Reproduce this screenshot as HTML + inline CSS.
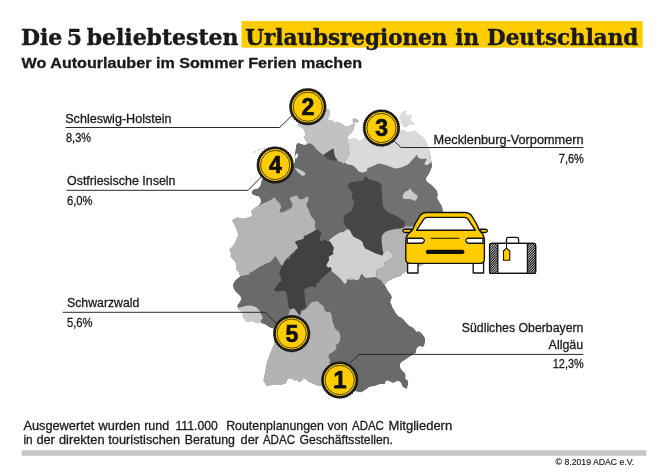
<!DOCTYPE html>
<html lang="de"><head><meta charset="utf-8"><title>Die 5 beliebtesten Urlaubsregionen in Deutschland</title>
<style>html,body{margin:0;padding:0;background:#fff}body{width:668px;height:472px;position:relative;overflow:hidden}</style>
</head><body>
<svg width="668" height="472" viewBox="0 0 668 472" style="position:absolute;left:0;top:0">
<defs><clipPath id="de"><path d="M300.0 101.0 L312.0 99.0 L322.0 102.0 L325.8 108.5 L328.5 109.0 L329.9 111.7 L330.1 114.4 L329.0 117.1 L327.2 119.3 L330.8 120.2 L333.5 121.1 L334.8 122.9 L337.1 122.0 L339.3 122.5 L341.6 123.8 L343.8 125.2 L346.0 126.5 L348.7 126.0 L351.0 124.7 L353.7 123.8 L352.8 121.6 L352.2 119.8 L353.7 118.2 L355.9 118.4 L358.2 120.2 L359.1 122.0 L357.3 122.6 L355.5 122.5 L354.6 124.1 L354.6 124.7 L354.2 127.0 L353.6 129.7 L351.9 132.4 L349.7 134.6 L347.9 136.4 L347.5 138.2 L348.5 139.6 L351.9 139.1 L354.6 138.2 L356.9 139.1 L359.1 140.9 L361.4 140.0 L362.7 138.2 L364.5 137.3 L368.1 141.4 L375.3 144.9 L395.4 126.9 L399.4 129.6 L401.7 131.0 L403.5 129.6 L405.7 131.4 L408.0 132.8 L410.7 131.9 L413.4 131.0 L415.6 130.5 L416.9 132.8 L419.2 134.6 L421.4 135.9 L423.7 137.7 L425.5 140.0 L425.9 142.0 L422.0 138.0 L424.5 140.0 L427.0 143.0 L428.5 147.5 L429.8 153.0 L430.8 158.8 L431.5 162.0 L432.0 166.8 L430.5 170.4 L428.7 174.0 L426.3 177.5 L426.0 180.5 L428.7 182.9 L431.7 185.3 L434.7 188.3 L437.1 191.3 L437.7 194.9 L437.1 197.9 L438.9 201.5 L440.7 204.5 L441.9 206.0 L443.0 212.0 L446.0 222.0 L447.0 232.0 L444.0 242.0 L440.0 250.0 L436.0 258.0 L428.0 262.0 L420.0 266.0 L412.0 270.0 L406.5 271.6 L402.9 273.4 L401.1 275.7 L397.5 276.9 L393.9 278.1 L390.3 279.9 L387.3 281.7 L384.9 284.7 L386.7 288.3 L388.5 291.3 L390.9 294.3 L392.1 297.3 L390.9 300.3 L390.3 303.3 L391.5 306.0 L388.9 300.0 L391.3 303.6 L392.5 307.2 L394.3 310.2 L396.1 313.2 L398.5 316.2 L401.5 317.4 L403.9 319.8 L406.3 322.8 L409.3 325.7 L412.3 326.9 L414.7 329.3 L416.5 331.7 L418.9 331.1 L421.9 333.5 L424.3 336.5 L425.4 339.5 L424.9 343.1 L424.3 346.1 L422.5 347.3 L420.7 346.1 L418.3 346.7 L416.5 349.1 L415.9 352.7 L414.7 356.0 L415.4 353.0 L411.9 355.4 L408.3 357.8 L404.7 360.2 L401.7 362.0 L399.9 364.4 L400.5 368.0 L402.3 370.4 L404.7 372.8 L405.9 375.7 L405.3 378.7 L407.7 379.9 L408.5 382.9 L407.7 385.9 L407.1 388.9 L404.7 388.3 L402.3 386.5 L401.1 383.5 L399.9 381.7 L397.5 381.1 L395.1 382.3 L392.7 382.9 L390.3 381.7 L387.3 380.5 L385.5 381.7 L384.9 384.1 L381.9 384.1 L378.3 384.7 L375.3 385.9 L372.3 386.5 L369.3 387.1 L366.9 388.9 L364.0 390.7 L361.6 392.5 L358.0 391.9 L355.6 391.3 L345.0 393.0 L335.0 390.0 L326.0 388.0 L321.1 385.5 L318.7 386.1 L316.3 385.3 L313.3 383.7 L310.3 382.5 L307.9 381.3 L306.1 379.5 L303.7 378.3 L301.3 381.3 L298.3 381.9 L297.1 380.1 L294.7 380.7 L292.3 378.9 L289.3 378.3 L286.9 380.1 L286.3 383.1 L282.8 384.6 L278.0 384.9 L273.2 384.9 L269.6 385.5 L266.6 386.1 L264.8 383.1 L263.4 380.1 L264.2 375.9 L265.4 371.1 L266.0 366.3 L267.2 361.6 L268.4 358.0 L270.2 353.2 L272.0 348.4 L274.4 343.6 L273.5 328.7 L270.5 328.1 L267.5 326.3 L265.1 324.6 L262.1 323.4 L260.3 322.2 L259.7 322.8 L257.3 323.4 L254.3 322.2 L251.9 321.0 L249.0 322.2 L246.0 321.6 L244.2 318.6 L242.4 316.8 L243.0 314.4 L241.8 311.4 L238.2 309.6 L237.6 307.8 L237.0 306.0 L238.8 303.0 L241.2 300.0 L238.8 304.5 L240.0 301.5 L241.2 298.5 L240.0 296.1 L237.6 293.7 L235.2 291.3 L233.4 288.3 L232.8 284.7 L234.6 281.1 L237.0 278.7 L240.0 276.3 L238.8 272.2 L235.8 269.2 L236.4 265.6 L235.2 262.0 L232.8 259.0 L230.4 256.6 L231.0 253.0 L229.2 250.0 L232.8 253.3 L230.4 251.5 L229.2 249.1 L231.0 247.9 L233.4 245.5 L235.2 241.9 L237.0 238.3 L238.2 234.7 L237.0 231.1 L235.8 227.5 L234.0 224.0 L232.2 221.0 L232.8 219.2 L236.4 218.0 L237.0 216.8 L239.4 218.0 L243.0 218.6 L247.8 217.4 L251.3 216.2 L252.5 213.8 L250.7 212.0 L251.9 210.2 L255.5 207.2 L259.7 204.2 L259.1 206.0 L259.7 203.9 L260.9 201.5 L260.3 199.1 L259.1 196.7 L256.1 196.1 L253.1 194.9 L251.3 193.1 L251.9 191.3 L253.1 189.5 L254.9 188.9 L257.9 188.3 L259.7 186.5 L260.9 183.5 L261.5 179.9 L266.0 175.0 L270.0 168.0 L280.0 160.0 L290.0 156.0 L291.7 166.7 L293.5 164.9 L294.8 160.5 L294.4 156.0 L295.1 151.5 L295.7 147.9 L296.2 144.6 L298.0 142.8 L300.4 143.4 L303.4 144.6 L306.3 144.6 L306.6 144.0 L306.9 142.2 L305.1 139.8 L304.0 136.8 L305.7 134.4 L304.6 132.0 L303.4 129.0 L301.0 127.2 L298.0 125.4 L297.6 124.8 L299.0 118.0 Z"/></clipPath><pattern id="hatch" width="1.7" height="1.7" patternUnits="userSpaceOnUse" patternTransform="rotate(35)"><rect width="1.7" height="1.7" fill="#fff"/><rect width="0.85" height="1.7" fill="#222"/></pattern></defs>
<rect x="241.5" y="21.1" width="401.2" height="26.5" fill="#ffcc00"/>
<g clip-path="url(#de)">
<path d="M300.0 101.0 L312.0 99.0 L322.0 102.0 L325.8 108.5 L328.5 109.0 L329.9 111.7 L330.1 114.4 L329.0 117.1 L327.2 119.3 L330.8 120.2 L333.5 121.1 L334.8 122.9 L337.1 122.0 L339.3 122.5 L341.6 123.8 L343.8 125.2 L346.0 126.5 L348.7 126.0 L351.0 124.7 L353.7 123.8 L352.8 121.6 L352.2 119.8 L353.7 118.2 L355.9 118.4 L358.2 120.2 L359.1 122.0 L357.3 122.6 L355.5 122.5 L354.6 124.1 L354.6 124.7 L354.2 127.0 L353.6 129.7 L351.9 132.4 L349.7 134.6 L347.9 136.4 L347.5 138.2 L348.5 139.6 L351.9 139.1 L354.6 138.2 L356.9 139.1 L359.1 140.9 L361.4 140.0 L362.7 138.2 L364.5 137.3 L368.1 141.4 L375.3 144.9 L395.4 126.9 L399.4 129.6 L401.7 131.0 L403.5 129.6 L405.7 131.4 L408.0 132.8 L410.7 131.9 L413.4 131.0 L415.6 130.5 L416.9 132.8 L419.2 134.6 L421.4 135.9 L423.7 137.7 L425.5 140.0 L425.9 142.0 L422.0 138.0 L424.5 140.0 L427.0 143.0 L428.5 147.5 L429.8 153.0 L430.8 158.8 L431.5 162.0 L432.0 166.8 L430.5 170.4 L428.7 174.0 L426.3 177.5 L426.0 180.5 L428.7 182.9 L431.7 185.3 L434.7 188.3 L437.1 191.3 L437.7 194.9 L437.1 197.9 L438.9 201.5 L440.7 204.5 L441.9 206.0 L443.0 212.0 L446.0 222.0 L447.0 232.0 L444.0 242.0 L440.0 250.0 L436.0 258.0 L428.0 262.0 L420.0 266.0 L412.0 270.0 L406.5 271.6 L402.9 273.4 L401.1 275.7 L397.5 276.9 L393.9 278.1 L390.3 279.9 L387.3 281.7 L384.9 284.7 L386.7 288.3 L388.5 291.3 L390.9 294.3 L392.1 297.3 L390.9 300.3 L390.3 303.3 L391.5 306.0 L388.9 300.0 L391.3 303.6 L392.5 307.2 L394.3 310.2 L396.1 313.2 L398.5 316.2 L401.5 317.4 L403.9 319.8 L406.3 322.8 L409.3 325.7 L412.3 326.9 L414.7 329.3 L416.5 331.7 L418.9 331.1 L421.9 333.5 L424.3 336.5 L425.4 339.5 L424.9 343.1 L424.3 346.1 L422.5 347.3 L420.7 346.1 L418.3 346.7 L416.5 349.1 L415.9 352.7 L414.7 356.0 L415.4 353.0 L411.9 355.4 L408.3 357.8 L404.7 360.2 L401.7 362.0 L399.9 364.4 L400.5 368.0 L402.3 370.4 L404.7 372.8 L405.9 375.7 L405.3 378.7 L407.7 379.9 L408.5 382.9 L407.7 385.9 L407.1 388.9 L404.7 388.3 L402.3 386.5 L401.1 383.5 L399.9 381.7 L397.5 381.1 L395.1 382.3 L392.7 382.9 L390.3 381.7 L387.3 380.5 L385.5 381.7 L384.9 384.1 L381.9 384.1 L378.3 384.7 L375.3 385.9 L372.3 386.5 L369.3 387.1 L366.9 388.9 L364.0 390.7 L361.6 392.5 L358.0 391.9 L355.6 391.3 L345.0 393.0 L335.0 390.0 L326.0 388.0 L321.1 385.5 L318.7 386.1 L316.3 385.3 L313.3 383.7 L310.3 382.5 L307.9 381.3 L306.1 379.5 L303.7 378.3 L301.3 381.3 L298.3 381.9 L297.1 380.1 L294.7 380.7 L292.3 378.9 L289.3 378.3 L286.9 380.1 L286.3 383.1 L282.8 384.6 L278.0 384.9 L273.2 384.9 L269.6 385.5 L266.6 386.1 L264.8 383.1 L263.4 380.1 L264.2 375.9 L265.4 371.1 L266.0 366.3 L267.2 361.6 L268.4 358.0 L270.2 353.2 L272.0 348.4 L274.4 343.6 L273.5 328.7 L270.5 328.1 L267.5 326.3 L265.1 324.6 L262.1 323.4 L260.3 322.2 L259.7 322.8 L257.3 323.4 L254.3 322.2 L251.9 321.0 L249.0 322.2 L246.0 321.6 L244.2 318.6 L242.4 316.8 L243.0 314.4 L241.8 311.4 L238.2 309.6 L237.6 307.8 L237.0 306.0 L238.8 303.0 L241.2 300.0 L238.8 304.5 L240.0 301.5 L241.2 298.5 L240.0 296.1 L237.6 293.7 L235.2 291.3 L233.4 288.3 L232.8 284.7 L234.6 281.1 L237.0 278.7 L240.0 276.3 L238.8 272.2 L235.8 269.2 L236.4 265.6 L235.2 262.0 L232.8 259.0 L230.4 256.6 L231.0 253.0 L229.2 250.0 L232.8 253.3 L230.4 251.5 L229.2 249.1 L231.0 247.9 L233.4 245.5 L235.2 241.9 L237.0 238.3 L238.2 234.7 L237.0 231.1 L235.8 227.5 L234.0 224.0 L232.2 221.0 L232.8 219.2 L236.4 218.0 L237.0 216.8 L239.4 218.0 L243.0 218.6 L247.8 217.4 L251.3 216.2 L252.5 213.8 L250.7 212.0 L251.9 210.2 L255.5 207.2 L259.7 204.2 L259.1 206.0 L259.7 203.9 L260.9 201.5 L260.3 199.1 L259.1 196.7 L256.1 196.1 L253.1 194.9 L251.3 193.1 L251.9 191.3 L253.1 189.5 L254.9 188.9 L257.9 188.3 L259.7 186.5 L260.9 183.5 L261.5 179.9 L266.0 175.0 L270.0 168.0 L280.0 160.0 L290.0 156.0 L291.7 166.7 L293.5 164.9 L294.8 160.5 L294.4 156.0 L295.1 151.5 L295.7 147.9 L296.2 144.6 L298.0 142.8 L300.4 143.4 L303.4 144.6 L306.3 144.6 L306.6 144.0 L306.9 142.2 L305.1 139.8 L304.0 136.8 L305.7 134.4 L304.6 132.0 L303.4 129.0 L301.0 127.2 L298.0 125.4 L297.6 124.8 L299.0 118.0 Z" fill="#6a6a6a"/>
<path d="M366.1 160.0 L366.1 169.3 L366.0 176.0 L372.0 200.0 L380.0 235.0 L395.0 245.0 L455.0 245.0 L455.0 150.0 L366.0 150.0 Z" fill="#717171"/>
<path d="M350.0 118.0 L343.0 131.5 L343.0 139.6 L348.2 139.6 L347.9 142.3 L348.5 144.9 L349.3 147.6 L348.8 150.3 L349.7 152.6 L348.5 154.8 L347.5 157.5 L346.1 160.0 L344.5 162.0 L343.0 163.8 L343.5 162.2 L348.0 164.4 L352.5 165.2 L356.2 168.2 L358.4 171.2 L362.2 172.7 L366.7 171.2 L367.4 168.2 L371.2 166.7 L374.9 165.2 L377.9 163.7 L381.6 165.2 L377.2 163.2 L380.8 163.8 L385.6 165.0 L390.4 166.8 L395.1 168.6 L399.3 168.0 L402.9 166.8 L407.1 165.0 L410.1 162.6 L412.5 159.6 L414.9 157.2 L416.7 154.8 L418.5 157.8 L421.5 159.0 L425.1 158.6 L426.9 159.6 L425.1 162.0 L424.5 164.4 L427.5 165.0 L430.5 162.6 L433.5 162.6 L445.0 150.0 L445.0 95.0 L350.0 95.0 L350.0 118.0 Z" fill="#dadada"/>
<path d="M285.0 95.0 L330.0 95.0 L330.8 105.4 L331.7 114.4 L329.0 118.0 L330.8 119.3 L333.5 120.2 L334.8 122.0 L337.1 121.1 L339.3 121.6 L343.8 124.3 L346.0 125.6 L348.7 125.2 L351.0 123.8 L352.3 123.5 L355.9 124.1 L360.9 127.0 L354.6 136.9 L348.2 139.6 L347.9 142.3 L348.5 144.9 L349.3 147.6 L348.8 150.3 L349.7 152.6 L348.5 154.8 L347.5 157.5 L346.1 160.0 L344.5 162.0 L343.0 163.8 L341.7 162.2 L338.7 161.3 L336.0 160.1 L334.5 157.1 L333.9 154.7 L333.7 151.7 L333.3 148.7 L331.5 149.3 L329.1 151.1 L326.1 152.9 L323.7 154.7 L321.3 153.5 L318.9 151.4 L316.5 149.3 L314.7 146.9 L312.3 144.6 L310.5 143.4 L308.1 143.4 L306.6 144.0 L300.0 140.0 L290.0 125.0 Z" fill="#c2c2c2"/>
<path d="M324.0 154.2 L326.7 152.8 L329.4 151.0 L332.1 149.2 L333.7 148.6 L334.0 151.5 L334.4 154.2 L335.3 156.9 L336.7 159.1 L338.0 160.6 L335.7 161.0 L333.0 160.5 L330.3 160.1 L327.6 159.2 L325.4 157.4 L324.2 155.6 Z" fill="#4a4a4a"/>
<path d="M259.7 204.2 L255.5 207.2 L251.9 210.2 L250.7 212.0 L252.5 213.8 L251.3 216.2 L247.8 217.4 L243.0 218.6 L239.4 218.0 L237.0 216.8 L236.4 218.0 L232.8 219.2 L229.8 221.0 L231.6 224.0 L233.4 227.5 L234.6 231.1 L235.8 234.7 L234.6 238.3 L232.8 241.9 L231.0 245.5 L228.6 247.9 L226.8 249.1 L228.0 251.5 L230.4 253.3 L226.8 250.0 L228.6 253.0 L228.0 256.6 L230.4 259.0 L232.8 262.0 L234.0 265.6 L233.4 269.2 L236.4 272.2 L240.0 276.3 L243.0 275.7 L246.6 275.1 L249.6 274.6 L249.0 272.2 L250.7 272.8 L253.1 271.0 L256.1 269.2 L259.7 266.8 L263.3 265.0 L266.9 263.2 L270.5 262.0 L272.9 259.0 L275.3 256.0 L277.7 259.6 L279.5 262.6 L281.3 265.0 L284.9 265.0 L287.3 262.0 L289.7 260.2 L292.7 259.0 L295.1 256.0 L297.5 253.0 L299.3 250.0 L298.7 252.7 L300.4 250.9 L302.2 248.5 L302.8 245.5 L300.4 243.7 L301.6 241.3 L305.2 240.1 L308.2 238.3 L307.6 235.9 L309.8 234.1 L298.0 246.0 L296.8 244.5 L295.0 242.7 L296.2 240.9 L298.6 240.3 L301.6 239.7 L304.0 238.5 L303.4 236.1 L305.1 234.9 L306.9 236.7 L309.3 236.1 L311.7 234.3 L313.5 231.9 L315.9 230.1 L315.3 228.3 L314.7 225.3 L315.3 221.7 L313.5 218.7 L311.1 216.3 L309.9 213.4 L308.7 209.8 L306.9 206.8 L306.3 203.8 L308.1 200.8 L308.7 197.8 L306.9 196.6 L304.0 198.4 L301.0 199.6 L298.6 198.4 L297.4 195.4 L294.4 196.0 L290.8 197.2 L289.6 199.0 L291.4 201.4 L292.6 204.4 L291.4 208.0 L287.2 209.8 L283.6 211.0 L280.0 212.2 L293.3 208.4 L288.5 210.2 L283.7 212.0 L280.1 212.6 L279.5 210.8 L281.3 207.2 L280.1 203.6 L277.7 200.0 L280.7 206.0 L279.5 203.9 L277.7 201.5 L275.9 199.1 L274.1 197.3 L272.3 199.1 L268.7 200.9 L264.5 202.7 L260.9 204.5 L259.1 206.0 Z" fill="#b5b5b5"/>
<path d="M327.9 241.5 L330.3 239.1 L333.3 236.7 L336.9 234.3 L339.9 232.5 L343.5 231.9 L345.9 230.1 L345.0 229.9 L348.0 229.3 L349.8 229.9 L351.6 233.5 L353.4 236.5 L356.9 238.3 L360.5 240.1 L362.9 242.5 L363.5 245.5 L365.3 248.5 L368.3 249.7 L371.9 251.5 L375.5 253.3 L379.1 254.5 L369.9 250.0 L373.5 251.8 L378.3 254.2 L382.5 255.4 L383.4 252.4 L387.9 250.0 L389.7 251.8 L392.1 254.2 L392.7 257.2 L390.3 259.0 L387.3 260.8 L384.3 262.6 L384.9 265.6 L382.5 267.4 L378.9 268.6 L375.9 270.4 L376.5 273.4 L375.9 276.9 L374.1 277.3 L370.5 277.5 L366.9 278.1 L364.0 276.9 L362.2 273.4 L360.4 275.7 L359.2 279.3 L355.6 280.5 L352.0 279.3 L349.0 278.1 L346.0 279.3 L346.6 282.3 L344.8 284.1 L342.4 279.9 L340.0 278.7 L356.6 280.3 L353.1 279.1 L349.5 277.9 L346.5 279.1 L347.1 282.1 L344.7 283.9 L342.3 280.9 L339.9 277.9 L336.9 275.5 L333.9 273.1 L330.9 270.7 L331.5 270.1 L330.9 267.1 L328.5 267.7 L326.1 265.9 L327.3 262.9 L329.1 260.0 L328.5 257.0 L330.9 255.2 L333.3 254.0 L332.7 251.6 L333.9 248.0 L332.1 245.0 L330.3 242.0 L327.3 239.6 Z" fill="#d0d0d0"/>
<path d="M382.8 233.9 L385.7 231.5 L389.9 230.0 L394.7 229.1 L399.5 228.5 L403.1 227.9 L404.9 226.4 L410.3 226.4 L417.5 225.5 L427.1 223.7 L440.0 219.0 L450.0 215.0 L450.0 275.0 L406.5 273.4 L402.9 274.0 L401.1 276.3 L397.5 277.5 L393.9 278.7 L390.3 280.5 L387.3 282.3 L384.9 285.3 L382.5 282.9 L381.3 280.5 L378.3 278.7 L375.9 276.9 L376.5 273.4 L375.9 270.4 L378.9 268.6 L382.5 267.4 L384.9 265.6 L384.3 262.6 L387.3 260.8 L390.3 259.0 L392.7 257.2 L392.1 254.2 L389.7 251.8 L387.9 250.0 L383.0 254.0 L380.0 250.0 L381.0 246.5 L380.4 241.7 L380.4 237.5 Z" fill="#b4b4b4"/>
<path d="M299.0 314.0 L302.0 311.6 L305.6 309.2 L308.0 306.8 L309.8 303.8 L312.2 302.0 L315.1 301.4 L318.7 301.4 L319.9 303.8 L322.3 305.0 L324.1 307.4 L324.7 310.4 L327.1 312.2 L329.5 311.6 L331.3 314.0 L331.9 317.5 L332.5 321.1 L333.7 324.7 L334.9 328.3 L337.3 330.7 L339.1 334.3 L340.3 337.9 L339.7 341.5 L337.9 343.9 L337.3 346.0 L338.0 330.0 L339.8 333.6 L340.4 337.2 L339.8 341.4 L336.8 343.8 L335.6 345.0 L336.8 348.0 L334.4 351.0 L331.4 352.8 L329.0 354.6 L328.4 356.9 L330.2 359.9 L329.6 362.9 L335.0 385.0 L345.0 400.0 L255.0 400.0 L255.0 345.0 L273.5 328.7 L276.5 324.0 L282.5 318.0 L288.5 314.4 L289.7 310.8 L290.3 306.6 L292.7 309.0 L294.5 307.2 L295.7 310.2 L298.1 312.0 L299.9 314.4 L301.6 312.0 L303.4 308.4 L293.6 309.2 L295.4 308.0 L297.2 311.0 Z" fill="#b3b3b3"/>
<path d="M237.6 307.8 L241.2 307.2 L245.4 306.0 L249.6 305.4 L253.1 306.0 L256.1 307.2 L258.5 309.6 L260.3 312.0 L261.5 315.0 L262.7 318.0 L260.9 320.4 L260.3 323.4 L257.3 324.0 L254.3 322.8 L251.9 321.6 L249.0 322.8 L246.0 322.2 L243.6 319.2 L241.8 316.8 L242.4 314.4 L241.2 311.4 L237.6 310.2 L236.4 307.8 Z" fill="#c8c8c8"/>
<path d="M295.0 242.0 L298.6 240.2 L303.4 239.0 L305.1 236.0 L315.9 230.1 L318.3 230.1 L320.7 231.3 L321.3 233.7 L320.1 236.7 L319.5 240.3 L321.3 241.5 L323.7 240.3 L326.1 239.7 L327.9 241.5 L330.3 244.5 L327.3 239.6 L330.3 242.0 L332.1 245.0 L333.9 248.0 L332.7 251.6 L333.3 254.0 L330.9 255.2 L328.5 257.0 L329.1 260.0 L327.3 262.9 L326.1 265.9 L328.5 267.7 L330.9 267.1 L331.5 270.1 L329.1 271.9 L326.1 274.3 L323.7 276.7 L321.3 278.5 L320.1 280.9 L318.3 282.7 L315.3 283.9 L316.7 284.4 L314.9 287.5 L312.2 286.2 L309.5 287.1 L305.9 288.4 L304.1 289.3 L304.6 293.4 L305.0 298.7 L305.5 303.2 L305.9 307.7 L305.5 309.5 L305.5 308.0 L301.3 310.4 L300.1 315.7 L298.3 314.0 L295.3 309.8 L293.5 308.0 L291.1 309.2 L290.2 309.5 L288.4 306.8 L288.0 303.2 L287.5 298.7 L286.6 294.3 L285.7 291.1 L282.6 290.7 L278.1 291.6 L274.9 291.1 L274.0 288.9 L276.3 287.1 L278.1 283.5 L281.7 280.8 L280.8 277.2 L279.0 272.7 L279.5 271.6 L281.3 268.0 L283.1 264.4 L284.3 261.4 L286.1 259.6 L289.1 258.4 L291.5 255.4 L293.9 252.4 L295.7 250.0 L283.6 261.7 L285.4 260.0 L288.4 258.2 L291.4 255.8 L293.2 252.8 L295.0 250.4 L298.0 248.0 L296.8 245.0 Z" fill="#414141"/>
<path d="M347.2 185.4 L350.2 182.4 L356.2 181.6 L362.2 180.9 L365.9 176.4 L369.7 179.4 L374.9 180.9 L380.1 182.4 L370.0 178.7 L373.6 179.9 L377.2 181.7 L380.8 183.5 L382.0 187.1 L381.4 191.3 L382.6 194.9 L382.0 199.1 L383.2 202.7 L382.6 206.0 L382.8 199.2 L382.2 203.4 L383.4 207.0 L385.7 210.6 L389.3 213.0 L393.5 214.8 L397.7 216.6 L401.3 219.0 L404.3 221.3 L404.9 224.9 L403.1 227.9 L399.5 228.5 L394.7 229.1 L389.9 230.0 L385.7 231.5 L382.8 233.9 L381.6 237.5 L381.6 241.7 L382.2 246.5 L382.8 251.0 L383.4 252.4 L382.5 255.4 L378.3 254.2 L373.5 251.8 L369.9 250.0 L379.1 254.5 L375.5 253.3 L371.9 251.5 L368.3 249.7 L365.3 248.5 L363.5 245.5 L362.9 242.5 L360.5 240.1 L356.9 238.3 L353.4 236.5 L351.6 233.5 L349.8 229.9 L346.8 228.1 L345.0 225.1 L343.2 222.2 L344.1 219.2 L343.8 215.6 L345.6 214.4 L349.2 212.6 L352.2 210.2 L352.8 207.2 L354.0 203.6 L353.4 200.0 L351.7 197.4 L352.5 192.9 L349.5 189.1 Z" fill="#464646"/>
<path d="M402.9 194.9 L404.7 191.9 L407.7 190.7 L410.1 188.3 L411.9 191.3 L414.9 193.7 L417.9 196.1 L416.7 199.1 L414.9 200.9 L412.5 199.7 L409.5 198.9 L405.9 199.1 L402.9 198.5 Z" fill="#cacaca"/>
<path d="M294.4 167.6 L298.0 168.8 L301.6 170.6 L304.9 172.4 L305.3 175.0 L302.5 175.9 L299.8 174.1 L297.1 171.4 Z" fill="#cacaca"/>
<path d="M352.4 120.7 L353.7 118.4 L356.0 118.0 L358.2 120.2 L359.0 122.0 L356.9 122.5 L355.1 121.6 L354.2 123.4 L354.6 124.7 L352.8 124.3 Z" fill="#b3b6bb"/>
<path d="M296.6 153.4 L298.1 154.0 L297.7 156.4 L296.3 158.8 L294.9 158.3 L295.4 155.5 Z" fill="#fff"/>
</g>
<path d="M399.4 116.2 L401.7 112.6 L404.8 110.8 L407.1 111.2 L405.7 113.5 L407.5 115.7 L409.8 114.4 L412.0 115.3 L411.6 117.5 L410.2 119.3 L412.5 121.6 L414.3 123.8 L413.4 125.6 L411.1 124.7 L408.9 125.2 L407.1 126.9 L405.3 127.8 L403.5 126.5 L401.7 124.7 L400.3 122.5 L400.8 120.2 L399.4 118.4 Z" fill="#dcdcdc"/>
<path d="M252.4 152.6 L255.8 151.4 M257.2 150.4 L261 149.2 M262.5 148.8 L265 148.3" stroke="#c4c4c4" stroke-width="0.9" fill="none"/>
<path d="M65.6 127.5 H279.7 L292 115.5" stroke="#2a2a2a" stroke-width="1" fill="none"/>
<path d="M66.5 190.3 H248 L262 176.3" stroke="#2a2a2a" stroke-width="1" fill="none"/>
<path d="M62.7 312.3 H265 L277.5 324.5" stroke="#2a2a2a" stroke-width="1" fill="none"/>
<path d="M583.5 147.5 H401 L391 138" stroke="#2a2a2a" stroke-width="1" fill="none"/>
<path d="M583.3 354.4 H359 L350 363.2" stroke="#2a2a2a" stroke-width="1" fill="none"/>
<g transform="translate(307.8 106.7)"><circle r="18.2" fill="none" stroke="#1a1a1a" stroke-width="1.2" stroke-dasharray="0.1 2.28" stroke-linecap="round"/><circle r="17.1" fill="#ffcc00" stroke="#1a1a1a" stroke-width="2.4"/><circle r="14.6" fill="none" stroke="#1a1a1a" stroke-width="0.75"/><text x="0.2" y="8.3" text-anchor="middle" font-family="Liberation Sans, sans-serif" font-weight="700" font-size="23" fill="#111" stroke="#111" stroke-width="0.7">2</text></g>
<g transform="translate(381.4 128)"><circle r="18.2" fill="none" stroke="#1a1a1a" stroke-width="1.2" stroke-dasharray="0.1 2.28" stroke-linecap="round"/><circle r="17.1" fill="#ffcc00" stroke="#1a1a1a" stroke-width="2.4"/><circle r="14.6" fill="none" stroke="#1a1a1a" stroke-width="0.75"/><text x="0.2" y="8.3" text-anchor="middle" font-family="Liberation Sans, sans-serif" font-weight="700" font-size="23" fill="#111" stroke="#111" stroke-width="0.7">3</text></g>
<g transform="translate(275.2 165)"><circle r="18.2" fill="none" stroke="#1a1a1a" stroke-width="1.2" stroke-dasharray="0.1 2.28" stroke-linecap="round"/><circle r="17.1" fill="#ffcc00" stroke="#1a1a1a" stroke-width="2.4"/><circle r="14.6" fill="none" stroke="#1a1a1a" stroke-width="0.75"/><text x="0.2" y="8.3" text-anchor="middle" font-family="Liberation Sans, sans-serif" font-weight="700" font-size="23" fill="#111" stroke="#111" stroke-width="0.7">4</text></g>
<g transform="translate(291.7 333.6)"><circle r="18.2" fill="none" stroke="#1a1a1a" stroke-width="1.2" stroke-dasharray="0.1 2.28" stroke-linecap="round"/><circle r="17.1" fill="#ffcc00" stroke="#1a1a1a" stroke-width="2.4"/><circle r="14.6" fill="none" stroke="#1a1a1a" stroke-width="0.75"/><text x="0.2" y="8.3" text-anchor="middle" font-family="Liberation Sans, sans-serif" font-weight="700" font-size="23" fill="#111" stroke="#111" stroke-width="0.7">5</text></g>
<g transform="translate(339.7 380)"><circle r="18.2" fill="none" stroke="#1a1a1a" stroke-width="1.2" stroke-dasharray="0.1 2.28" stroke-linecap="round"/><circle r="17.1" fill="#ffcc00" stroke="#1a1a1a" stroke-width="2.4"/><circle r="14.6" fill="none" stroke="#1a1a1a" stroke-width="0.75"/><text x="0.2" y="8.3" text-anchor="middle" font-family="Liberation Sans, sans-serif" font-weight="700" font-size="23" fill="#111" stroke="#111" stroke-width="0.7">1</text><rect x="-5.8" y="6" width="12.4" height="2.3" fill="#111"/></g>
<g stroke="#111" stroke-width="1.35" stroke-linejoin="round" stroke-linecap="round">
<rect x="407.6" y="262" width="10.4" height="11" fill="#fff"/>
<rect x="473.2" y="262" width="10.4" height="11" fill="#fff"/>
<path d="M412.2 230.4 Q414.5 224 419.2 216.8 Q421.8 212.5 426.6 212.5 H465 Q469.8 212.5 472.4 216.8 Q477.1 224 479.4 230.4 Q484.4 234.5 484.4 240.5 V259.3 Q484.4 263.3 480.4 263.3 H409.8 Q405.8 263.3 405.8 259.3 V240.5 Q405.8 234.5 412.2 230.4 Z" fill="#ffcc00"/>
<path d="M416.6 230.2 L423.6 219.4 Q424.9 217.4 427.4 217.4 H464.4 Q466.9 217.4 468.2 219.4 L475.2 230.2 Z" fill="#fff"/>
<path d="M411.6 229.2 H405.2 Q402.6 229.4 402.8 231 Q403 232.6 405.6 232.5 H410.2 Z" fill="#ffcc00"/>
<path d="M480 229.2 H485 Q487.6 229.4 487.4 231 Q487.2 232.6 484.6 232.5 H481.4 Z" fill="#ffcc00"/>
<path d="M407.2 238.2 H422.6 Q424.8 239.6 424.4 241 Q423.6 243.2 421.4 243.2 H407.2 Z" fill="#fff"/>
<path d="M483 238.2 H467.6 Q465.4 239.6 465.8 241 Q466.6 243.2 468.8 243.2 H483 Z" fill="#fff"/>
<path d="M431.2 238.2 H459" fill="none" stroke-width="1.05"/>
<rect x="425.8" y="249.8" width="38.7" height="4.3" rx="2.1" fill="#111" stroke="none"/>
</g>
<defs><clipPath id="hl"><path d="M491.6 243.4 H497.8 V273.4 H491.6 Q489.6 273.4 489.6 271.4 V245.4 Q489.6 243.4 491.6 243.4 Z"/></clipPath>
<clipPath id="hr"><path d="M533.6 243.4 H527.4 V273.4 H533.6 Q535.6 273.4 535.6 271.4 V245.4 Q535.6 243.4 533.6 243.4 Z"/></clipPath></defs>
<g stroke="#111" stroke-width="1.3" stroke-linejoin="round">
<path d="M506.5 243.4 V239.2 Q506.5 237.4 508.3 237.4 H516.8 Q518.6 237.4 518.6 239.2 V243.4" fill="none"/>
<rect x="489.6" y="243.4" width="46" height="30" rx="2" fill="#fff"/>
<g clip-path="url(#hl)"><rect x="489.6" y="243.4" width="8.199999999999989" height="29.99999999999997" fill="#fff" stroke="none"/><path d="M460.63 273.4 L489.60 243.4 M463.03 273.4 L492.00 243.4 M465.43 273.4 L494.40 243.4 M467.83 273.4 L496.80 243.4 M470.23 273.4 L499.20 243.4 M472.63 273.4 L501.60 243.4 M475.03 273.4 L504.00 243.4 M477.43 273.4 L506.40 243.4 M479.83 273.4 L508.80 243.4 M482.23 273.4 L511.20 243.4 M484.63 273.4 L513.60 243.4 M487.03 273.4 L516.00 243.4 M489.43 273.4 L518.40 243.4 M491.83 273.4 L520.80 243.4 M494.23 273.4 L523.20 243.4 M496.63 273.4 L525.60 243.4" stroke="#1a1a1a" stroke-width="1.15" fill="none"/></g>
<g clip-path="url(#hr)"><rect x="527.4" y="243.4" width="8.200000000000045" height="29.99999999999997" fill="#fff" stroke="none"/><path d="M498.43 273.4 L527.40 243.4 M500.83 273.4 L529.80 243.4 M503.23 273.4 L532.20 243.4 M505.63 273.4 L534.60 243.4 M508.03 273.4 L537.00 243.4 M510.43 273.4 L539.40 243.4 M512.83 273.4 L541.80 243.4 M515.23 273.4 L544.20 243.4 M517.63 273.4 L546.60 243.4 M520.03 273.4 L549.00 243.4 M522.43 273.4 L551.40 243.4 M524.83 273.4 L553.80 243.4 M527.23 273.4 L556.20 243.4 M529.63 273.4 L558.60 243.4 M532.03 273.4 L561.00 243.4 M534.43 273.4 L563.40 243.4" stroke="#1a1a1a" stroke-width="1.15" fill="none"/></g>
<path d="M497.8 243.4 V273.4 M527.4 243.4 V273.4" fill="none"/>
<rect x="489.6" y="243.4" width="46" height="30" rx="2" fill="none"/>
<path d="M506.5 243.4 V248.4" fill="none" stroke-width="1"/>
<path d="M503.5 251 L506.6 248.1 L509.8 251 V260.3 H503.5 Z" fill="#ffcc00" stroke-width="1.1"/>
</g>
<rect x="21.6" y="450.2" width="624.7" height="5.6" fill="#c8c8c8"/>
<text word-spacing="-3.2" stroke="#1a1a1a" stroke-width="0.45" x="20.9" y="44.5" font-family="DejaVu Serif, Liberation Serif, serif" font-size="22.8" font-weight="700" text-anchor="start" fill="#1a1a1a" textLength="217.6" lengthAdjust="spacingAndGlyphs">Die 5 beliebtesten</text>
<text word-spacing="0.5" stroke="#1a1a1a" stroke-width="0.45" x="245.2" y="44.5" font-family="DejaVu Serif, Liberation Serif, serif" font-size="22.8" font-weight="700" text-anchor="start" fill="#1a1a1a" textLength="393.2" lengthAdjust="spacingAndGlyphs">Urlaubsregionen in Deutschland</text>
<text stroke="#1a1a1a" stroke-width="0.3" x="21.6" y="67.6" font-family="Liberation Sans, sans-serif" font-size="14.8" font-weight="700" text-anchor="start" fill="#1a1a1a" textLength="340.4" lengthAdjust="spacingAndGlyphs">Wo Autourlauber im Sommer Ferien machen</text>
<text x="65.2" y="122.5" font-family="Liberation Sans, sans-serif" font-size="12.2" fill="#1a1a1a" textLength="106.4" lengthAdjust="spacingAndGlyphs" stroke="#1a1a1a" stroke-width="0.28">Schleswig-Holstein</text>
<text x="66" y="141.8" font-family="Liberation Sans, sans-serif" font-size="12.2" fill="#1a1a1a" textLength="25" lengthAdjust="spacingAndGlyphs" stroke="#1a1a1a" stroke-width="0.28">8,3%</text>
<text x="67" y="184.9" font-family="Liberation Sans, sans-serif" font-size="12.2" fill="#1a1a1a" textLength="108.5" lengthAdjust="spacingAndGlyphs" stroke="#1a1a1a" stroke-width="0.28">Ostfriesische Inseln</text>
<text x="67" y="204.5" font-family="Liberation Sans, sans-serif" font-size="12.2" fill="#1a1a1a" textLength="25.6" lengthAdjust="spacingAndGlyphs" stroke="#1a1a1a" stroke-width="0.28">6,0%</text>
<text x="67" y="307.3" font-family="Liberation Sans, sans-serif" font-size="12.2" fill="#1a1a1a" textLength="72.4" lengthAdjust="spacingAndGlyphs" stroke="#1a1a1a" stroke-width="0.28">Schwarzwald</text>
<text x="67" y="326.5" font-family="Liberation Sans, sans-serif" font-size="12.2" fill="#1a1a1a" textLength="25.6" lengthAdjust="spacingAndGlyphs" stroke="#1a1a1a" stroke-width="0.28">5,6%</text>
<text x="433.6" y="143.8" font-family="Liberation Sans, sans-serif" font-size="12.2" fill="#1a1a1a" textLength="150" lengthAdjust="spacingAndGlyphs" stroke="#1a1a1a" stroke-width="0.28">Mecklenburg-Vorpommern</text>
<text x="558.8" y="162.7" font-family="Liberation Sans, sans-serif" font-size="12.2" fill="#1a1a1a" textLength="25" lengthAdjust="spacingAndGlyphs" stroke="#1a1a1a" stroke-width="0.28">7,6%</text>
<text x="461.8" y="332.2" font-family="Liberation Sans, sans-serif" font-size="12.2" fill="#1a1a1a" textLength="121.6" lengthAdjust="spacingAndGlyphs" stroke="#1a1a1a" stroke-width="0.28">Südliches Oberbayern</text>
<text x="548.6" y="348.5" font-family="Liberation Sans, sans-serif" font-size="12.2" fill="#1a1a1a" textLength="34.6" lengthAdjust="spacingAndGlyphs" stroke="#1a1a1a" stroke-width="0.28">Allgäu</text>
<text x="552.8" y="368.4" font-family="Liberation Sans, sans-serif" font-size="12.2" fill="#1a1a1a" textLength="30.8" lengthAdjust="spacingAndGlyphs" stroke="#1a1a1a" stroke-width="0.28">12,3%</text>
<text y="430.2" font-family="Liberation Sans, sans-serif" font-size="12.2" fill="#1a1a1a" stroke="#1a1a1a" stroke-width="0.28"><tspan x="23.4" textLength="71.0" lengthAdjust="spacingAndGlyphs">Ausgewertet</tspan> <tspan x="98.6" textLength="41.8" lengthAdjust="spacingAndGlyphs">wurden</tspan> <tspan x="144.2" textLength="25.0" lengthAdjust="spacingAndGlyphs">rund</tspan> <tspan x="175.4" textLength="42.4" lengthAdjust="spacingAndGlyphs">111.000</tspan> <tspan x="226.2" textLength="97.6" lengthAdjust="spacingAndGlyphs">Routenplanungen</tspan> <tspan x="327.6" textLength="20.2" lengthAdjust="spacingAndGlyphs">von</tspan> <tspan x="352" textLength="31.8" lengthAdjust="spacingAndGlyphs">ADAC</tspan> <tspan x="388.6" textLength="63.6" lengthAdjust="spacingAndGlyphs">Mitgliedern</tspan></text>
<text y="443.9" font-family="Liberation Sans, sans-serif" font-size="12.2" fill="#1a1a1a" stroke="#1a1a1a" stroke-width="0.28"><tspan x="23.4" textLength="9.2" lengthAdjust="spacingAndGlyphs">in</tspan> <tspan x="36.4" textLength="18.5" lengthAdjust="spacingAndGlyphs">der</tspan> <tspan x="59" textLength="45.5" lengthAdjust="spacingAndGlyphs">direkten</tspan> <tspan x="108.3" textLength="71.7" lengthAdjust="spacingAndGlyphs">touristischen</tspan> <tspan x="184.8" textLength="50.2" lengthAdjust="spacingAndGlyphs">Beratung</tspan> <tspan x="240.6" textLength="18.5" lengthAdjust="spacingAndGlyphs">der</tspan> <tspan x="262.9" textLength="32.1" lengthAdjust="spacingAndGlyphs">ADAC</tspan> <tspan x="299.5" textLength="93.5" lengthAdjust="spacingAndGlyphs">Geschäftsstellen.</tspan></text>
<text x="555.6" y="465.3" font-family="Liberation Sans, sans-serif" font-size="8.7" fill="#1a1a1a" textLength="78.6" lengthAdjust="spacingAndGlyphs" stroke="#1a1a1a" stroke-width="0.15">© 8.2019 ADAC e.V.</text>
</svg>
</body></html>
